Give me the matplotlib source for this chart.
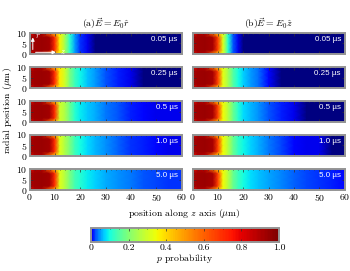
import numpy as np
import matplotlib
matplotlib.use('Agg')
import matplotlib.pyplot as plt
from matplotlib.colors import ListedColormap
from matplotlib.ticker import MultipleLocator

plt.rcParams['font.family'] = ['cmr10', 'DejaVu Serif']
plt.rcParams['mathtext.fontset'] = 'cm'
plt.rcParams['axes.formatter.use_mathtext'] = True
plt.rcParams['font.size'] = 7

# sample points along z (um) and r (um)
z_core = [0, 2, 5, 8, 10]
z_tail = [12, 14, 16, 18, 20, 23, 26, 30, 35, 40, 45, 50, 55, 60]
r_knots = [0, 2, 5, 8, 10]

times = ['0.05 µs', '0.25 µs', '0.5 µs', '1.0 µs', '5.0 µs']
titles = [r'(a)$\vec{E}=E_0\hat{r}$', r'(b)$\vec{E}=E_0\hat{z}$']

# probability near the source (axis rows / edge rows)
core_a_center = [0.90, 0.93, 0.94, 0.92, 0.70]
core_a_edge = [0.75, 0.90, 0.90, 0.58, 0.42]
core_b_center = [0.90, 0.93, 0.94, 0.91, 0.66]
core_b_edge = [0.75, 0.90, 0.88, 0.55, 0.40]

# probability downstream, one list per time
tail_a = [
    [0.36, 0.24, 0.113, 0.048, 0.017, 0.0064, 0.0012, 0.0001, 3e-5, 3e-5, 3e-5, 3e-5, 3e-5, 3e-5],
    [0.37, 0.30, 0.19, 0.127, 0.094, 0.066, 0.048, 0.027, 0.013, 0.0042, 0.0018, 0.0008, 0.0006, 0.0006],
    [0.30, 0.25, 0.17, 0.11, 0.088, 0.067, 0.057, 0.037, 0.024, 0.015, 0.0093, 0.0064, 0.0052, 0.0042],
    [0.32, 0.25, 0.19, 0.127, 0.10, 0.077, 0.062, 0.044, 0.030, 0.019, 0.013, 0.0093, 0.0064, 0.0052],
    [0.32, 0.26, 0.19, 0.134, 0.113, 0.088, 0.071, 0.057, 0.044, 0.037, 0.027, 0.022, 0.019, 0.017],
]
tail_b = [
    [0.32, 0.113, 0.027, 0.0064, 0.0012, 0.0001, 3e-5, 3e-5, 3e-5, 3e-5, 3e-5, 3e-5, 3e-5, 3e-5],
    [0.33, 0.24, 0.15, 0.10, 0.071, 0.048, 0.033, 0.011, 0.0018, 0.0002, 5e-5, 3e-5, 3e-5, 3e-5],
    [0.35, 0.26, 0.17, 0.113, 0.082, 0.062, 0.044, 0.024, 0.013, 0.0064, 0.0033, 0.0018, 0.0012, 0.0008],
    [0.35, 0.26, 0.17, 0.12, 0.094, 0.071, 0.057, 0.037, 0.022, 0.011, 0.0064, 0.0042, 0.0033, 0.0025],
    [0.35, 0.26, 0.17, 0.127, 0.10, 0.082, 0.066, 0.053, 0.040, 0.030, 0.022, 0.017, 0.013, 0.011],
]

cbar_ticks = [0, 0.2, 0.4, 0.6, 0.8, 1.0]

# jet colours, stretched towards low probabilities
cmap = ListedColormap(plt.cm.jet(np.linspace(0, 1, 256) ** 0.42))
frame_col = '#959595'

W, H = 350, 271
fig = plt.figure(figsize=(W / 100, H / 100), dpi=100)

col_left = [29.5, 192.7]
col_width = 152
row_top = [33, 67, 101, 134.5, 169]
row_h = 21

zz = np.array(z_core + z_tail)
Zg, Rg = np.meshgrid(zz, r_knots)

cores = [(core_a_center, core_a_edge), (core_b_center, core_b_edge)]
tails = [tail_a, tail_b]


def style_frame(ax):
    for sp in ax.spines.values():
        sp.set_color(frame_col)
        sp.set_linewidth(1.4)
    ax.tick_params(which='both', direction='in', top=True, right=True,
                   color='#303030', width=0.5, pad=1.5, labelsize=7)
    ax.tick_params(which='major', length=2)
    ax.tick_params(which='minor', length=1)


for c in range(2):
    center, edge = cores[c]
    for i in range(5):
        ax = fig.add_axes([col_left[c] / W, 1 - (row_top[i] + row_h) / H,
                           col_width / W, row_h / H])
        mid_row = np.array(center + tails[c][i])
        edge_row = np.array(edge + tails[c][i])
        C = np.vstack([edge_row, mid_row, mid_row, mid_row, edge_row])
        ax.pcolormesh(Zg, Rg, C, shading='gouraud', cmap=cmap,
                      vmin=0, vmax=1, rasterized=True)
        ax.set_xlim(0, 60)
        ax.set_ylim(0, 10)
        ax.xaxis.set_major_locator(MultipleLocator(10))
        ax.xaxis.set_minor_locator(MultipleLocator(2))
        ax.yaxis.set_major_locator(MultipleLocator(5))
        ax.yaxis.set_minor_locator(MultipleLocator(1))
        style_frame(ax)
        if c == 1:
            ax.tick_params(labelleft=False)
        if i < 4:
            ax.tick_params(labelbottom=False)
        ax.text(0.975, 0.68, times[i], transform=ax.transAxes, ha='right',
                va='center', color='white', fontsize=5.8,
                family='Liberation Sans')
        if i == 0:
            ax.set_title(titles[c], fontsize=7, pad=4)
        if c == 0 and i == 0:
            ax.annotate('', xy=(1.3, 9.2), xytext=(1.3, 0.8),
                        arrowprops=dict(arrowstyle='-|>', color='white',
                                        lw=0.7, mutation_scale=5))
            ax.annotate('', xy=(11.5, 0.8), xytext=(1.3, 0.8),
                        arrowprops=dict(arrowstyle='-|>', color='white',
                                        lw=0.7, mutation_scale=5))
            ax.text(2.0, 8.6, r'$r$', color='white', fontsize=6,
                    va='center')
            ax.text(12.2, 1.2, r'$z$', color='white', fontsize=6,
                    va='center')

fig.text(8 / W, 1 - 111 / H, r'radial position ($\mu$m)', rotation=90,
         ha='center', va='center', fontsize=7)
fig.text(184 / W, 1 - 214 / H, r'position along $z$ axis ($\mu$m)',
         ha='center', va='center', fontsize=7)

# colour bar
cax = fig.add_axes([91 / W, 1 - 242 / H, 188 / W, 14 / H])
sm = plt.cm.ScalarMappable(cmap=cmap, norm=plt.Normalize(0, 1))
cb = fig.colorbar(sm, cax=cax, orientation='horizontal', ticks=cbar_ticks)
cb.ax.set_xticklabels(['0', '0.2', '0.4', '0.6', '0.8', '1.0'])
cb.outline.set_edgecolor(frame_col)
cb.outline.set_linewidth(1.4)
cax.xaxis.set_minor_locator(MultipleLocator(0.05))
cax.tick_params(which='both', direction='in', top=True, color='#303030',
                width=0.5, pad=1.5, labelsize=7)
cax.tick_params(which='major', length=2)
cax.tick_params(which='minor', length=1)
cb.set_label(r'$p$ probability', fontsize=7, labelpad=0)

fig.savefig('out.png', dpi=100)
